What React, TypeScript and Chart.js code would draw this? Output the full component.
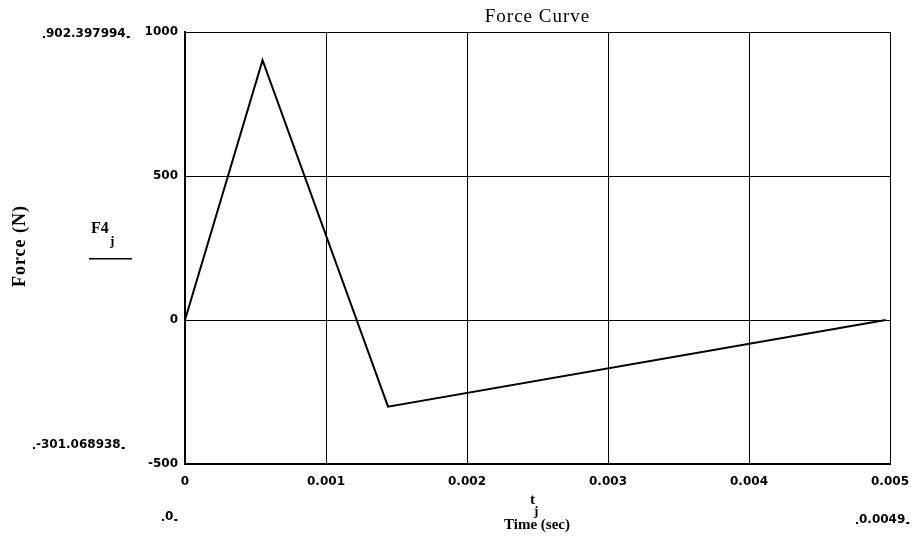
import React, { useEffect, useRef } from "react";
import { Chart, registerables } from "chart.js";

Chart.register(...registerables);

const timeValues = [0, 0.00055, 0.00144, 0.00497];
const forceValues = [0, 902.397994, -301.068938, 0];
const yTicks = [-500, 0, 500, 1000];
const titleText = "Force Curve";
const yLabel = "Force (N)";
const xLabel = "Time (sec)";
const yMaxLabel = "902.397994";
const yMinLabel = "-301.068938";
const xMinLabel = "0";
const xMaxLabel = "0.0049";

const SANS = "'DejaVu Sans', 'Liberation Sans', sans-serif";
const SERIF = "'Liberation Serif', 'DejaVu Serif', serif";

const marks = (ctx: CanvasRenderingContext2D, x1: number, x2: number, y: number) => {
  ctx.fillRect(x1 - 3, y + 1, 2, 2);
  ctx.fillRect(x2 + 1, y + 1, 3, 2);
};

const overlay = {
  id: "overlay",
  afterDraw(chart: any) {
    const ctx = chart.ctx as CanvasRenderingContext2D;
    const area = chart.chartArea;
    ctx.save();
    ctx.fillStyle = "#000";
    // title
    ctx.font = `19px ${SERIF}`;
    (ctx as any).letterSpacing = "1px";
    ctx.textAlign = "center";
    ctx.textBaseline = "alphabetic";
    ctx.fillText(titleText, (area.left + area.right) / 2, 22);

    // y axis rotated label
    ctx.save();
    ctx.translate(25, 246);
    ctx.rotate(-Math.PI / 2);
    ctx.font = `bold 18px ${SERIF}`;
    ctx.textAlign = "center";
    ctx.fillText(yLabel, 0, 0);
    ctx.restore();
    (ctx as any).letterSpacing = "0px";

    // F4_j
    ctx.font = `bold 16px ${SERIF}`;
    ctx.textAlign = "left";
    ctx.fillText("F4", 91, 233);
    ctx.font = `bold 13px ${SERIF}`;
    ctx.fillText("j", 110, 245);
    ctx.fillRect(89, 258, 43, 1.5);

    // range labels
    ctx.font = `bold 12px ${SANS}`;
    ctx.textAlign = "left";
    let w = ctx.measureText(yMaxLabel).width;
    ctx.fillText(yMaxLabel, 46, 37);
    marks(ctx, 46, 46 + w, 35);
    w = ctx.measureText(yMinLabel).width;
    ctx.fillText(yMinLabel, 36, 448);
    marks(ctx, 36, 36 + w, 446);
    w = ctx.measureText(xMinLabel).width;
    ctx.fillText(xMinLabel, 165, 520);
    marks(ctx, 165, 165 + w, 518);
    w = ctx.measureText(xMaxLabel).width;
    ctx.fillText(xMaxLabel, 859, 523);
    marks(ctx, 859, 859 + w, 521);

    // t_j and Time (sec)
    ctx.font = `bold 15px ${SERIF}`;
    ctx.fillText("t", 530, 504);
    ctx.font = `bold 13px ${SERIF}`;
    ctx.fillText("j", 534, 515);
    ctx.font = `bold 15px ${SERIF}`;
    ctx.textAlign = "center";
    ctx.fillText(xLabel, 537, 529);
    ctx.restore();
  },
};

export default function App() {
  const ref = useRef<HTMLCanvasElement>(null);
  useEffect(() => {
    document.body.style.margin = "0";
    const chart = new Chart(ref.current!, {
      type: "line",
      data: {
        datasets: [
          {
            data: timeValues.map((t, i) => ({ x: t, y: forceValues[i] })),
            borderColor: "#000",
            borderWidth: 2,
            pointRadius: 0,
            tension: 0,
            fill: false,
          },
        ],
      },
      options: {
        animation: false,
        responsive: false,
        maintainAspectRatio: false,
        layout: { padding: { left: 0, right: 27, top: 32, bottom: 0 } },
        plugins: { legend: { display: false }, title: { display: false }, tooltip: { enabled: false } },
        scales: {
          x: {
            type: "linear",
            min: 0,
            max: 0.005,
            afterFit: (s: any) => {
              s.height = 94;
              s.paddingRight = 0;
              s.paddingLeft = 0;
            },
            ticks: {
              stepSize: 0.001,
              color: "#000",
              padding: 11,
              maxRotation: 0,
              font: { family: SANS, size: 12, weight: "bold" },
              callback: (v: any) => String(+Number(v).toFixed(3)),
            },
            grid: { color: "#000", lineWidth: 1, drawTicks: false },
            border: { color: "#000", width: 2 },
          },
          y: {
            type: "linear",
            min: -500,
            max: 1000,
            afterFit: (s: any) => {
              s.width = 185;
            },
            afterBuildTicks: (s: any) => {
              s.ticks = yTicks.map((v) => ({ value: v }));
            },
            ticks: {
              color: "#000",
              padding: 7,
              font: { family: SANS, size: 12, weight: "bold" },
              callback: (v: any) => String(v),
            },
            grid: { color: "#000", lineWidth: 1, drawTicks: false },
            border: { color: "#000", width: 2 },
          },
        },
      },
      plugins: [overlay],
    } as any);
    return () => chart.destroy();
  }, []);
  return <canvas ref={ref} width={917} height={558} style={{ display: "block" }} />;
}
